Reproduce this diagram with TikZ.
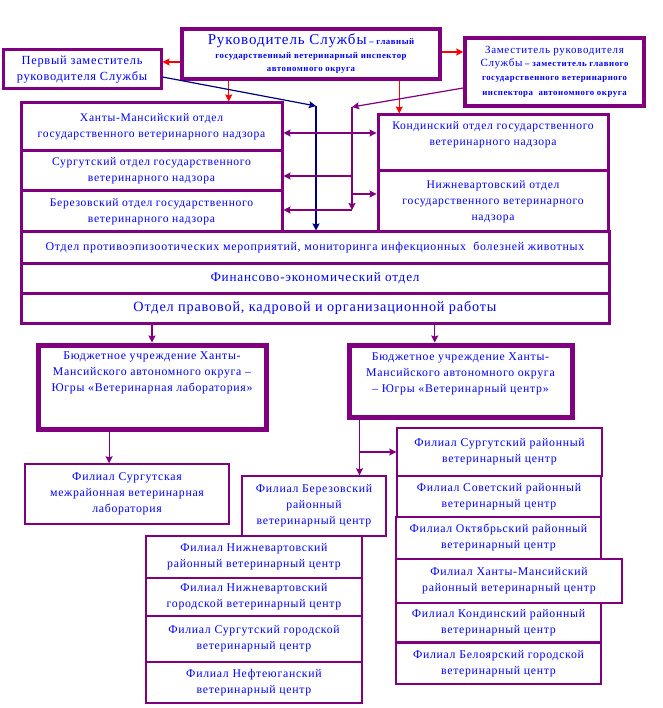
\documentclass[tikz,border=0pt]{standalone}
\usepackage{fontspec}
\setmainfont{Liberation Serif}[LetterSpace=6]
\usetikzlibrary{arrows.meta,calc,positioning}

\definecolor{vio}{RGB}{128,0,128}
\definecolor{txtblue}{RGB}{0,0,255}
\definecolor{navyln}{RGB}{0,0,128}
\definecolor{redln}{RGB}{255,0,0}
\newcommand{\fsz}[2]{\fontsize{#1}{#2}\selectfont}

\begin{document}
\begin{tikzpicture}[
    x=1pt, y=-1pt,
    box/.style={
        draw=vio,
        line width=3pt,
        align=center,
        text=txtblue,
        inner sep=0pt,
        font=\fsz{11.6}{16}
    },
    bubox/.style={box, line width=5pt, font=\fsz{11.8}{16}},
    filbox/.style={box, line width=1.4pt, font=\fsz{11.8}{16}},
    txt/.style={align=center, text=txtblue, inner sep=0pt, font=\fsz{11.8}{16}},
    small/.style={font=\fsz{8.8}{13.5}\bfseries},
    link/.style={draw=vio, line width=1.2pt, -{Stealth[length=7pt,width=7pt,inset=1pt]}},
    redlink/.style={link, draw=redln, fill=redln},
    navylink/.style={link, draw=navyln}
]
    \useasboundingbox (0,0) rectangle (662,708);

    % management
    \node[box, line width=4pt, minimum width=258pt, minimum height=50pt, small]
        (head) at (311,54)
        {{\fsz{15}{17}\mdseries Руководитель Службы} – главный\\
         государственный ветеринарный инспектор\\
         автономного округа};

    \node[box, minimum width=158pt, minimum height=39pt, font=\fsz{12.4}{16}]
        (first) at (82,69.5)
        {Первый заместитель\\руководителя Службы};

    \node[box, line width=3.5pt, minimum width=179pt, minimum height=68pt, small]
        (deputy) at (554.5,72)
        {{\fsz{11}{13.5}\mdseries Заместитель руководителя}\\
         {\fsz{11}{13.5}\mdseries Службы} – заместитель главного\\
         государственного ветеринарного\\[2pt]
         инспектора\ \ автономного округа};

    % territorial departments
    \node[box, minimum width=261pt, minimum height=48pt] (hm) at (151.5,127)
        {Ханты-Мансийский отдел\\государственного ветеринарного надзора};
    \node[box, minimum width=261pt, minimum height=40pt] (surg) at (151.5,171)
        {Сургутский отдел государственного\\ветеринарного надзора};
    \node[box, minimum width=261pt, minimum height=41pt] (ber) at (151.5,211.5)
        {Березовский отдел государственного\\ветеринарного надзора};
    \node[box, minimum width=230pt, minimum height=56pt] (kond) at (493,143) {};
    \node[txt, font=\fsz{11.6}{16}] (kondtext) at (493,135)
        {Кондинский отдел государственного\\ветеринарного надзора};
    \node[box, minimum width=230pt, minimum height=61pt] (nv) at (493,201.5)
        {Нижневартовский отдел\\государственного ветеринарного\\надзора};

    % central departments
    \node[box, minimum width=588pt, minimum height=31pt, font=\fsz{11.9}{16}] (epiz) at (315,247.5)
        {Отдел противоэпизоотических мероприятий, мониторинга инфекционных\ \ болезней животных};
    \node[box, minimum width=588pt, minimum height=30pt, font=\fsz{13.2}{16}] (fin) at (315,278)
        {Финансово-экономический отдел};
    \node[box, minimum width=588pt, minimum height=30pt, font=\fsz{14.2}{16}] (law) at (315,308)
        {Отдел правовой, кадровой и организационной работы};

    % institutions
    \node[bubox, minimum width=228pt, minimum height=84pt] (lab) at (152,387) {};
    \node[txt] (labtext) at (152,373)
        {Бюджетное учреждение Ханты-\\Мансийского автономного округа –\\Югры «Ветеринарная лаборатория»};
    \node[bubox, minimum width=223pt, minimum height=72pt] (vc) at (460.5,381) {};
    \node[txt] (vctext) at (460.5,373.5)
        {Бюджетное учреждение Ханты-\\Мансийского автономного округа\\– Югры «Ветеринарный центр»};

    % branches
    \node[filbox, minimum width=204pt, minimum height=60pt] (fsl) at (127,494)
        {Филиал Сургутская\\межрайонная ветеринарная\\лаборатория};
    \node[filbox, minimum width=144pt, minimum height=60pt] (fber) at (314,506)
        {Филиал Березовский\\районный\\ветеринарный центр};
    \node[filbox, minimum width=216pt, minimum height=42pt] (fnvr) at (254,557)
        {Филиал Нижневартовский\\районный ветеринарный центр};
    \node[filbox, minimum width=216pt, minimum height=38pt] (fnvg) at (254,597)
        {Филиал Нижневартовский\\городской ветеринарный центр};
    \node[filbox, minimum width=216pt, minimum height=46pt] (fsg) at (254,639)
        {Филиал Сургутский городской\\ветеринарный центр};
    \node[filbox, minimum width=216pt, minimum height=41pt] (fnef) at (254,682.5)
        {Филиал Нефтеюганский\\ветеринарный центр};

    \node[filbox, minimum width=205pt, minimum height=48pt] (fsr) at (499.5,452)
        {Филиал Сургутский районный\\ветеринарный центр};
    \node[filbox, minimum width=204pt, minimum height=41pt] (fsov) at (499,496.5)
        {Филиал Советский районный\\ветеринарный центр};
    \node[filbox, minimum width=205pt, minimum height=42pt] (fokt) at (498.5,538)
        {Филиал Октябрьский районный\\ветеринарный центр};
    \node[filbox, minimum width=226pt, minimum height=44pt] (fhm) at (509,581)
        {Филиал Ханты-Мансийский\\районный ветеринарный центр};
    \node[filbox, minimum width=205pt, minimum height=39pt] (fkond) at (498.5,622.5)
        {Филиал Кондинский районный\\ветеринарный центр};
    \node[filbox, minimum width=205pt, minimum height=41pt] (fbel) at (498.5,663.5)
        {Филиал Белоярский городской\\ветеринарный центр};

    % head links
    \draw[redlink] ($(head.west)+(0,8)$) -- ($(first.east)+(0,-7.5)$);
    \draw[redlink] ($(head.east)+(0,-2)$) -- ($(deputy.west)+(0,-20)$);
    \draw[redlink] ($(head.south west)!0.186!(head.south east)$) coordinate (r1)
        -- (r1 |- hm.north);
    \draw[redlink] ($(head.south west)!0.837!(head.south east)$) coordinate (r2)
        -- (r2 |- kond.north);

    % first deputy
    \coordinate (nvc) at (316,106);
    \draw[navylink] ($(first.east)+(0,7.5)$) -- (nvc);
    \draw[navylink] (nvc) -- (nvc |- epiz.north);

    % deputy
    \coordinate (dpc) at (352,107);
    \coordinate (dpb) at (352,210);
    \draw[link] ($(deputy.west)+(0,16)$) -- (dpc);
    \draw[link] (dpc) -- (dpb);
    \draw[link, {Stealth[length=7pt,width=7pt,inset=1pt]}-{Stealth[length=7pt,width=7pt,inset=1pt]}]
        ($(hm.east)+(0,6)$) -- ($(kond.west)+(0,-10)$);
    \draw[link] ($(surg.east -| dpc)+(0,5)$) -- ($(surg.east)+(0,5)$);
    \draw[link] ($(nv.west -| dpc)+(0,-7.5)$) -- ($(nv.west)+(0,-7.5)$);
    \draw[link] (dpb) -- (dpb -| ber.east);

    % institutions
    \draw[link] (lab.north |- law.south) -- (lab.north);
    \coordinate (v1) at ($(vc.north west)!0.387!(vc.north east)$);
    \draw[link] (v1 |- law.south) -- (v1);
    \draw[link] ($(lab.south west)!0.316!(lab.south east)$) coordinate (l1)
        -- (l1 |- fsl.north);
    \draw[link] ($(vc.south west)+(13,0)$) coordinate (v2) -- (v2 |- fber.north);
    \draw[link] (v2 |- fsr.west) -- (fsr.west);
\end{tikzpicture}
\end{document}
